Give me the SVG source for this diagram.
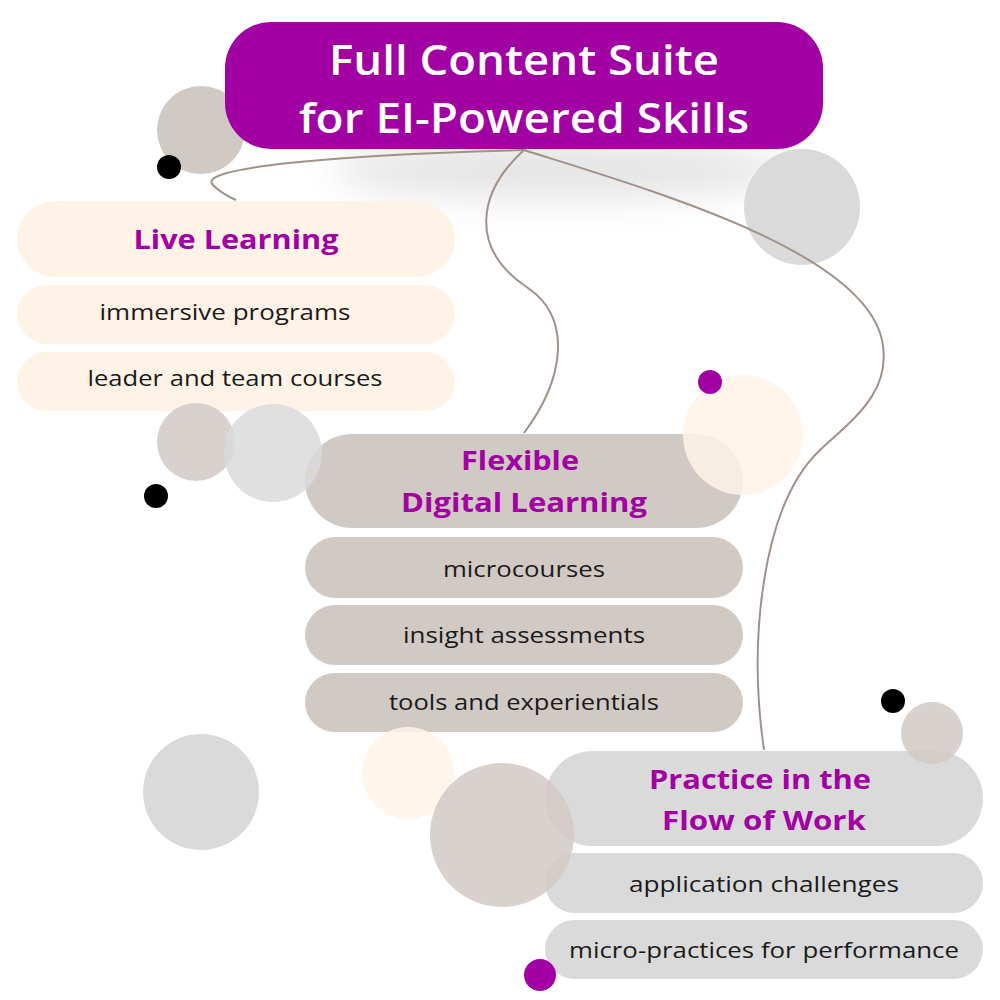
<svg xmlns="http://www.w3.org/2000/svg" width="1000" height="1000" viewBox="0 0 1000 1000">
<defs>
<filter id="blur" x="-50%" y="-50%" width="200%" height="200%"><feGaussianBlur stdDeviation="18"/></filter>
<style>
.title{font-family:"Open Sans","Liberation Sans",sans-serif;font-weight:600;font-size:42px;fill:#ffffff;text-anchor:middle}
.head{font-family:"Open Sans","Liberation Sans",sans-serif;font-weight:700;font-size:27px;fill:#A100A3;text-anchor:middle}
.item{font-family:"Open Sans","Liberation Sans",sans-serif;font-weight:400;font-size:21px;fill:#1a1a1a;text-anchor:middle}
.cream{fill:#FFF3E8}
.taupe{fill:#D1C9C4}
.grey{fill:#DADADA}
.conn{fill:none;stroke:#A0928A;stroke-width:2}
.deco{opacity:0.85}
</style>
</defs>
<rect width="1000" height="1000" fill="#ffffff"/>

<!-- shadow under title -->
<ellipse cx="560" cy="170" rx="230" ry="30" fill="#000" opacity="0.10" filter="url(#blur)"/>

<!-- background circles -->
<g id="decor-back">
<circle cx="201" cy="130" r="44" class="taupe"/>
<circle cx="802" cy="207" r="58" class="grey"/>
</g>

<!-- connectors -->
<g id="connectors">
<path class="conn" d="M524,150 C330,155 195,168 213,185 Q222,194 236,200"/>
<path class="conn" d="M524,150 C478,192 468,248 528,288 C572,318 565,378 524,433"/>
<path class="conn" d="M524,150 C650,190 862,250 882,340 C893,392 852,420 820,450 C762,505 748,640 764,750"/>
</g>

<!-- title -->
<g id="title">
<rect x="225" y="22" width="598" height="127" rx="46" fill="#A100A3"/>
<text class="title" x="524" y="75" textLength="390" lengthAdjust="spacingAndGlyphs">Full Content Suite</text>
<text class="title" x="524" y="133" textLength="450" lengthAdjust="spacingAndGlyphs">for EI-Powered Skills</text>
</g>

<!-- Live Learning -->
<g id="live-learning">
<rect x="17" y="201" width="438" height="76" rx="38" class="cream"/>
<text class="head" x="236" y="249" textLength="205" lengthAdjust="spacingAndGlyphs">Live Learning</text>
</g>
<g id="immersive-programs">
<rect x="17" y="285" width="438" height="59" rx="29.5" class="cream"/>
<text class="item" x="225" y="320" textLength="251" lengthAdjust="spacingAndGlyphs">immersive programs</text>
</g>
<g id="leader-team-courses">
<rect x="17" y="352" width="438" height="59" rx="29.5" class="cream"/>
<text class="item" x="235" y="386" textLength="295" lengthAdjust="spacingAndGlyphs">leader and team courses</text>
</g>

<!-- Flexible Digital Learning -->
<g id="flexible-digital">
<rect x="305" y="434" width="438" height="94" rx="47" class="taupe"/>
<text class="head" x="520" y="470" textLength="118" lengthAdjust="spacingAndGlyphs">Flexible</text>
<text class="head" x="524" y="512" textLength="246" lengthAdjust="spacingAndGlyphs">Digital Learning</text>
</g>
<g id="microcourses">
<rect x="305" y="537" width="438" height="61" rx="30.5" class="taupe"/>
<text class="item" x="524" y="577" textLength="162" lengthAdjust="spacingAndGlyphs">microcourses</text>
</g>
<g id="insight-assessments">
<rect x="305" y="605" width="438" height="60" rx="30" class="taupe"/>
<text class="item" x="524" y="643" textLength="242" lengthAdjust="spacingAndGlyphs">insight assessments</text>
</g>
<g id="tools-experientials">
<rect x="305" y="673" width="438" height="59" rx="29.5" class="taupe"/>
<text class="item" x="524" y="710" textLength="270" lengthAdjust="spacingAndGlyphs">tools and experientials</text>
</g>

<!-- Practice in the Flow of Work -->
<g id="practice-flow">
<rect x="545" y="751" width="438" height="95" rx="47.5" class="grey"/>
<text class="head" x="760" y="789" textLength="222" lengthAdjust="spacingAndGlyphs">Practice in the</text>
<text class="head" x="764" y="830" textLength="204" lengthAdjust="spacingAndGlyphs">Flow of Work</text>
</g>
<g id="application-challenges">
<rect x="545" y="853" width="438" height="60" rx="30" class="grey"/>
<text class="item" x="764" y="892" textLength="270" lengthAdjust="spacingAndGlyphs">application challenges</text>
</g>
<g id="micro-practices">
<rect x="545" y="920" width="438" height="59" rx="29.5" class="grey"/>
<text class="item" x="764" y="958" textLength="390" lengthAdjust="spacingAndGlyphs">micro-practices for performance</text>
</g>

<!-- foreground circles -->
<g id="decor-front">
<circle cx="743" cy="435" r="60" class="cream deco"/>
<circle cx="196" cy="442" r="39" class="taupe deco"/>
<circle cx="273" cy="453" r="49" class="grey deco"/>
<circle cx="201" cy="792" r="58" class="grey"/>
<circle cx="408" cy="773" r="46" class="cream deco"/>
<circle cx="502" cy="835" r="72" class="taupe deco"/>
<circle cx="932" cy="733" r="31" class="taupe deco"/>
<circle cx="169" cy="167" r="12" fill="#000"/>
<circle cx="156" cy="496" r="12" fill="#000"/>
<circle cx="893" cy="701" r="12" fill="#000"/>
<circle cx="710" cy="382" r="12" fill="#A100A3"/>
<circle cx="540" cy="975" r="16" fill="#A100A3"/>
</g>
</svg>
